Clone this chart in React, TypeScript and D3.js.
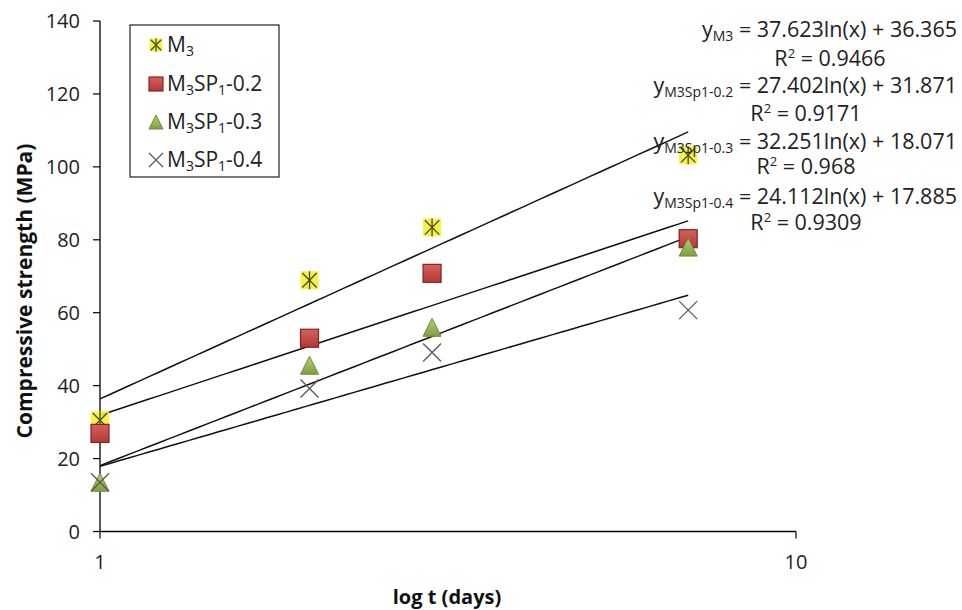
import React from "react";
import * as d3 from "d3";

// ---- data ----
const days = [1, 2, 3, 7];
const seriesKeys = ["M3", "M3SP1-0.2", "M3SP1-0.3", "M3SP1-0.4"];
const valuesM3 = [30.5, 68.9, 83.4, 103.2];
const valuesSP02 = [26.9, 53.0, 70.8, 80.3];
const valuesSP03 = [13.5, 45.6, 56.0, 78.0];
const valuesSP04 = [13.5, 39.2, 49.1, 60.7];
const slopes = [37.623, 27.402, 32.251, 24.112];
const intercepts = [36.365, 31.871, 18.071, 17.885];
const r2Values = ["0.9466", "0.9171", "0.968", "0.9309"];
const eqSubs = ["M3", "M3Sp1-0.2", "M3Sp1-0.3", "M3Sp1-0.4"];
const legendTails = ["", "-0.2", "-0.3", "-0.4"];
const yTicks = [0, 20, 40, 60, 80, 100, 120, 140];
const xTicks = [1, 10];
const trendRange = [1, 7];

const seriesValues = [valuesM3, valuesSP02, valuesSP03, valuesSP04];

const W = 962;
const H = 610;
const FONT = "'Open Sans', 'DejaVu Sans', sans-serif";

const x = d3.scaleLog().domain([1, 10]).range([100, 796]);
const y = d3.scaleLinear().domain([0, 140]).range([531.5, 21]);

function Marker({ kind, cx, cy, s }: { kind: number; cx: number; cy: number; s: number }) {
  const h = s / 2;
  if (kind === 0) {
    return (
      <g>
        <rect x={cx - h} y={cy - h} width={s} height={s} fill="#f3f034" opacity={0.9} />
        <line x1={cx} y1={cy - h} x2={cx} y2={cy + h} stroke="#4a4a20" strokeWidth={1.3} />
        <line x1={cx - h * 0.8} y1={cy - h * 0.8} x2={cx + h * 0.8} y2={cy + h * 0.8} stroke="#4a4a20" strokeWidth={1.3} />
        <line x1={cx + h * 0.8} y1={cy - h * 0.8} x2={cx - h * 0.8} y2={cy + h * 0.8} stroke="#4a4a20" strokeWidth={1.3} />
      </g>
    );
  }
  if (kind === 1) {
    return (
      <rect x={cx - h} y={cy - h} width={s} height={s} fill="url(#gradRed)" stroke="#7d2522" strokeWidth={1.2} />
    );
  }
  if (kind === 2) {
    const p = `${cx},${cy - h} ${cx + h},${cy + h} ${cx - h},${cy + h}`;
    return <polygon points={p} fill="url(#gradGreen)" stroke="#6f8a3c" strokeWidth={1} />;
  }
  return (
    <g stroke="#595959" strokeWidth={1.3}>
      <line x1={cx - h} y1={cy - h} x2={cx + h} y2={cy + h} />
      <line x1={cx + h} y1={cy - h} x2={cx - h} y2={cy + h} />
    </g>
  );
}

export default function App() {
  const samples = d3.range(0, 61).map((i) => trendRange[0] * Math.pow(trendRange[1] / trendRange[0], i / 60));

  const eqBase = [37, 93, 149, 204];
  const r2Base = [66, 121, 174, 230];
  const r2Center = [830, 806, 806, 806];
  const legendRows = [45, 84, 122, 160];

  return (
    <svg
      width={W}
      height={H}
      style={{ position: "absolute", left: 0, top: 0, background: "#fff" }}
      fontFamily={FONT}
    >
      <defs>
        <linearGradient id="gradRed" x1="0" y1="0" x2="0" y2="1">
          <stop offset="0" stopColor="#d5605b" />
          <stop offset="1" stopColor="#b23a35" />
        </linearGradient>
        <linearGradient id="gradGreen" x1="0" y1="0" x2="0" y2="1">
          <stop offset="0" stopColor="#b5d070" />
          <stop offset="1" stopColor="#7f9f45" />
        </linearGradient>
      </defs>
      <rect x={0} y={0} width={W} height={H} fill="#fff" />

      {/* axes */}
      <line x1={x(1)} y1={y(0)} x2={x(10)} y2={y(0)} stroke="#000" strokeWidth={1.3} />
      <line x1={x(1)} y1={y(0)} x2={x(1)} y2={y(140)} stroke="#000" strokeWidth={1.3} />
      {yTicks.map((t) => (
        <g key={t}>
          <line x1={x(1) - 7} y1={y(t)} x2={x(1)} y2={y(t)} stroke="#000" strokeWidth={1.2} />
          <text x={80} y={y(t)} dy="0.36em" textAnchor="end" fontSize={20} fill="#222">
            {t}
          </text>
        </g>
      ))}
      {xTicks.map((t) => (
        <g key={t}>
          <line x1={x(t)} y1={y(0)} x2={x(t)} y2={y(0) + 7} stroke="#000" strokeWidth={1.2} />
          <text x={x(t)} y={562} dy="0.36em" textAnchor="middle" fontSize={20} fill="#222">
            {t}
          </text>
        </g>
      ))}
      <text x={447} y={597} dy="0.36em" textAnchor="middle" fontSize={20} fontWeight="bold" fill="#111">
        log t (days)
      </text>
      <text
        transform="translate(24,291) rotate(-90)"
        dy="0.36em"
        textAnchor="middle"
        fontSize={21}
        fontWeight="bold"
        fill="#111"
      >
        Compressive strength (MPa)
      </text>

      {/* trendlines */}
      {slopes.map((a, k) => {
        const l = d3
          .line<number>()
          .x((d) => x(d))
          .y((d) => y(a * Math.log(d) + intercepts[k]));
        return <path key={k} d={l(samples) || ""} fill="none" stroke="#111" strokeWidth={1.5} />;
      })}

      {/* markers */}
      {seriesValues.map((vals, k) =>
        vals.map((v, i) => <Marker key={`${k}-${i}`} kind={k} cx={x(days[i])} cy={y(v)} s={18} />)
      )}

      {/* equations */}
      {slopes.map((a, k) => (
        <g key={k} fontSize={21.5} fill="#222">
          <text x={957} y={eqBase[k]} textAnchor="end">
            y
            <tspan fontSize={14} dy={4}>
              {eqSubs[k]}
            </tspan>
            <tspan dy={-4}>{` = ${a.toFixed(3)}ln(x) + ${intercepts[k].toFixed(3)}`}</tspan>
          </text>
          <text x={r2Center[k]} y={r2Base[k]} textAnchor="middle">
            R
            <tspan fontSize={13} dy={-8}>
              2
            </tspan>
            <tspan dy={8}>{` = ${r2Values[k]}`}</tspan>
          </text>
        </g>
      ))}

      {/* legend */}
      <rect x={130} y={25} width={149} height={152} fill="#fff" stroke="#222" strokeWidth={1.2} />
      {seriesKeys.map((key, k) => (
        <g key={key}>
          <Marker kind={k} cx={156} cy={legendRows[k]} s={k === 0 ? 13 : 14} />
          <text x={167} y={legendRows[k] + 7} fontSize={21} fill="#222">
            M
            <tspan fontSize={14} dy={4}>
              3
            </tspan>
            {k > 0 ? (
              <>
                <tspan dy={-4}>SP</tspan>
                <tspan fontSize={14} dy={4}>
                  1
                </tspan>
                <tspan dy={-4}>{legendTails[k]}</tspan>
              </>
            ) : null}
          </text>
        </g>
      ))}
    </svg>
  );
}
